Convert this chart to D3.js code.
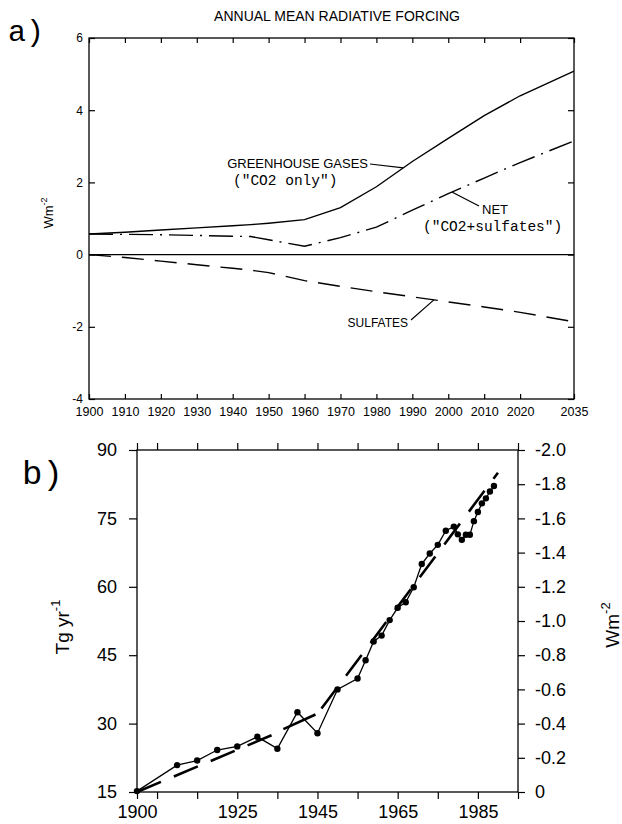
<!DOCTYPE html>
<html>
<head>
<meta charset="utf-8">
<script src="https://cdn.jsdelivr.net/npm/d3@7"></script>
<style>
body { margin: 0; background: #fff; }
svg { display: block; }
</style>
</head>
<body>
<script>
// panel a: annual mean radiative forcing, W m-2
var yearsA = [1900, 1910, 1920, 1930, 1940, 1945, 1950, 1960, 1970, 1980, 1990, 2000, 2010, 2020, 2035];
var ghg    = [0.57, 0.62, 0.68, 0.74, 0.80, 0.83, 0.87, 0.97, 1.30, 1.88, 2.58, 3.22, 3.85, 4.40, 5.08];
var net    = [0.57, 0.56, 0.55, 0.53, 0.51, 0.50, 0.41, 0.23, 0.47, 0.76, 1.23, 1.69, 2.12, 2.55, 3.15];
var sulf   = [0.00, -0.08, -0.18, -0.28, -0.38, -0.43, -0.50, -0.72, -0.88, -1.03, -1.17, -1.31, -1.45, -1.60, -1.86];
var xTicksA = [1900, 1910, 1920, 1930, 1940, 1950, 1960, 1970, 1980, 1990, 2000, 2010, 2020, 2035];
var yTicksA = [-4, -2, 0, 2, 4, 6];

// panel b: sulfur emissions, Tg/yr (right axis = forcing)
var yearsB = [1900, 1910, 1915, 1920, 1925, 1930, 1935, 1940, 1945, 1950, 1955,
              1957, 1959, 1961, 1963, 1965, 1967, 1969, 1971, 1973, 1975, 1977,
              1979, 1980, 1981, 1982, 1983, 1984, 1985, 1986, 1987, 1988, 1989];
var emis   = [15.2, 20.9, 21.9, 24.2, 25.0, 27.1, 24.5, 32.5, 27.9, 37.5, 39.9,
              43.9, 48.0, 49.3, 52.7, 55.4, 56.6, 59.9, 65.0, 67.3, 69.2, 72.3,
              73.2, 71.5, 70.3, 71.4, 71.4, 74.4, 76.4, 78.3, 79.4, 80.9, 82.1];
var trendYears = [[1900, 1934], [1936.5, 1944.5], [1946, 1990]];
var trendVals  = [[15.0, 27.6], [28.8, 32.0], [33.3, 85.0]];
var xTicksB  = [1900, 1905, 1915, 1925, 1935, 1945, 1955, 1965, 1975, 1985, 1995];
var xLabelsB = [1900, 1925, 1945, 1965, 1985];
var yTicksB  = [15, 30, 45, 60, 75, 90];
var wTicksB  = [0, -0.2, -0.4, -0.6, -0.8, -1.0, -1.2, -1.4, -1.6, -1.8, -2.0];

var width = 622, height = 824;
var sans = "'Liberation Sans', Arial, Helvetica, sans-serif";
var mono = "'Liberation Mono', 'Courier New', monospace";

var svg = d3.select("body").append("svg")
    .attr("width", width)
    .attr("height", height);

function styleAxis(g, size) {
  g.select(".domain").remove();
  g.selectAll("line").attr("stroke", "#000").attr("stroke-width", 1.2);
  g.selectAll("text")
    .attr("font-family", sans)
    .attr("font-size", size)
    .attr("fill", "#000");
}

// ---------- panel a ----------
var xA = d3.scaleLinear().domain([1900, 2035]).range([89, 574]);
var yA = d3.scaleLinear().domain([-4, 6]).range([399, 38]);

svg.append("text")
    .attr("x", 337).attr("y", 21)
    .attr("text-anchor", "middle")
    .attr("font-family", sans).attr("font-size", 14)
    .text("ANNUAL MEAN RADIATIVE FORCING");

svg.append("text")
    .attr("x", 8).attr("y", 41)
    .attr("font-family", mono).attr("font-size", 30)
    .text("a)");

svg.append("g").attr("transform", "translate(0,399)")
    .call(d3.axisBottom(xA).tickValues(xTicksA).tickSize(-5).tickPadding(8).tickFormat(d3.format("d")))
    .call(styleAxis, 12.5);
svg.append("g").attr("transform", "translate(0,38)")
    .call(d3.axisTop(xA).tickValues(xTicksA).tickSize(-5).tickFormat(""))
    .call(styleAxis, 12);
svg.append("g").attr("transform", "translate(89,0)")
    .call(d3.axisLeft(yA).tickValues(yTicksA).tickSize(-6).tickPadding(6).tickFormat(function(d) { return String(d); }))
    .call(styleAxis, 12);
svg.append("g").attr("transform", "translate(574,0)")
    .call(d3.axisRight(yA).tickValues(yTicksA).tickSize(-6).tickFormat(""))
    .call(styleAxis, 12);

svg.append("rect")
    .attr("x", xA(1900)).attr("y", yA(6))
    .attr("width", xA(2035) - xA(1900)).attr("height", yA(-4) - yA(6))
    .attr("fill", "none").attr("stroke", "#000").attr("stroke-width", 1.3);

// zero line
svg.append("line")
    .attr("x1", xA(1900)).attr("x2", xA(2035))
    .attr("y1", yA(0)).attr("y2", yA(0))
    .attr("stroke", "#000").attr("stroke-width", 1.3);

var lineA = d3.line()
    .x(function(d, i) { return xA(yearsA[i]); })
    .y(function(d) { return yA(d); });

svg.append("path").datum(ghg).attr("d", lineA)
    .attr("fill", "none").attr("stroke", "#000").attr("stroke-width", 1.4);
svg.append("path").datum(net).attr("d", lineA)
    .attr("fill", "none").attr("stroke", "#000").attr("stroke-width", 1.4)
    .attr("stroke-dasharray", "24,7,2,7");
svg.append("path").datum(sulf).attr("d", lineA)
    .attr("fill", "none").attr("stroke", "#000").attr("stroke-width", 1.4)
    .attr("stroke-dasharray", "22,11");

// labels and leaders
function interp(series, yr) {
  var i = d3.bisectLeft(yearsA, yr);
  if (i <= 0) return series[0];
  var t = (yr - yearsA[i - 1]) / (yearsA[i] - yearsA[i - 1]);
  return series[i - 1] + t * (series[i] - series[i - 1]);
}

svg.append("text").attr("x", 368).attr("y", 168).attr("text-anchor", "end")
    .attr("font-family", sans).attr("font-size", 13).text("GREENHOUSE GASES");
svg.append("text").attr("x", 233).attr("y", 185)
    .attr("font-family", mono).attr("font-size", 14.5).text("(\"CO2 only\")");
svg.append("line").attr("x1", 370).attr("y1", 164)
    .attr("x2", xA(1987.5)).attr("y2", yA(interp(ghg, 1987.5)))
    .attr("stroke", "#000").attr("stroke-width", 1.2);

svg.append("text").attr("x", 482).attr("y", 214)
    .attr("font-family", sans).attr("font-size", 13).text("NET");
svg.append("text").attr("x", 423).attr("y", 231)
    .attr("font-family", mono).attr("font-size", 14.5).text("(\"CO2+sulfates\")");
svg.append("line").attr("x1", 479).attr("y1", 206)
    .attr("x2", xA(2001)).attr("y2", yA(interp(net, 2001)))
    .attr("stroke", "#000").attr("stroke-width", 1.2);

svg.append("text").attr("x", 408).attr("y", 327).attr("text-anchor", "end")
    .attr("font-family", sans).attr("font-size", 12).text("SULFATES");
svg.append("line").attr("x1", 411).attr("y1", 320)
    .attr("x2", xA(1996)).attr("y2", yA(interp(sulf, 1996)))
    .attr("stroke", "#000").attr("stroke-width", 1.2);

var wa = svg.append("text")
    .attr("transform", "translate(53,213) rotate(-90)")
    .attr("text-anchor", "middle")
    .attr("font-family", sans).attr("font-size", 13);
wa.append("tspan").text("Wm");
wa.append("tspan").attr("font-size", 9).attr("dy", -6).text("-2");

// ---------- panel b ----------
var xB = d3.scaleLinear().domain([1900, 1995]).range([137, 518]);
var yB = d3.scaleLinear().domain([15, 90]).range([792, 450]);
var yW = d3.scaleLinear().domain([0, -2]).range([792, 450]);

svg.append("text")
    .attr("x", 22).attr("y", 484)
    .attr("font-family", mono).attr("font-size", 34)
    .text("b)");

svg.append("g").attr("transform", "translate(0,792)")
    .call(d3.axisBottom(xB).tickValues(xTicksB).tickSize(7).tickPadding(6)
      .tickFormat(function(d) { return xLabelsB.indexOf(d) >= 0 ? String(d) : ""; }))
    .call(styleAxis, 18);
svg.append("g").attr("transform", "translate(0,450)")
    .call(d3.axisTop(xB).tickValues(xTicksB).tickSize(7).tickFormat(""))
    .call(styleAxis, 18);
svg.append("g").attr("transform", "translate(137,0)")
    .call(d3.axisLeft(yB).tickValues(yTicksB).tickSize(8).tickPadding(12).tickFormat(d3.format("d")))
    .call(styleAxis, 18);
svg.append("g").attr("transform", "translate(518,0)")
    .call(d3.axisRight(yW).tickValues(wTicksB).tickSize(7).tickPadding(10)
      .tickFormat(function(d) { return d === 0 ? "0" : d3.format(".1f")(d).replace("\u2212", "-"); }))
    .call(styleAxis, 18);

svg.append("rect")
    .attr("x", xB(1900)).attr("y", yB(90))
    .attr("width", xB(1995) - xB(1900)).attr("height", yB(15) - yB(90))
    .attr("fill", "none").attr("stroke", "#000").attr("stroke-width", 1.3);

var lineB = d3.line()
    .x(function(d, i) { return xB(yearsB[i]); })
    .y(function(d) { return yB(d); });

svg.append("path").datum(emis).attr("d", lineB)
    .attr("fill", "none").attr("stroke", "#000").attr("stroke-width", 1.3);

svg.selectAll(".dot").data(emis).enter().append("circle")
    .attr("class", "dot")
    .attr("cx", function(d, i) { return xB(yearsB[i]); })
    .attr("cy", function(d) { return yB(d); })
    .attr("r", 3.2)
    .attr("fill", "#000");

var trendDash = ["26,14", null, "26,15"];
trendVals.forEach(function(vals, k) {
  svg.append("path")
    .datum(vals)
    .attr("d", d3.line()
      .x(function(d, i) { return xB(trendYears[k][i]); })
      .y(function(d) { return yB(d); }))
    .attr("fill", "none").attr("stroke", "#000").attr("stroke-width", 2.6)
    .attr("stroke-dasharray", trendDash[k]);
});

var tg = svg.append("text")
    .attr("transform", "translate(69,627) rotate(-90)")
    .attr("text-anchor", "middle")
    .attr("font-family", sans).attr("font-size", 19);
tg.append("tspan").text("Tg yr");
tg.append("tspan").attr("font-size", 13).attr("dy", -9).text("-1");

var wb = svg.append("text")
    .attr("transform", "translate(619,625) rotate(-90)")
    .attr("text-anchor", "middle")
    .attr("font-family", sans).attr("font-size", 19);
wb.append("tspan").text("Wm");
wb.append("tspan").attr("font-size", 13).attr("dy", -9).text("-2");
</script>
</body>
</html>
